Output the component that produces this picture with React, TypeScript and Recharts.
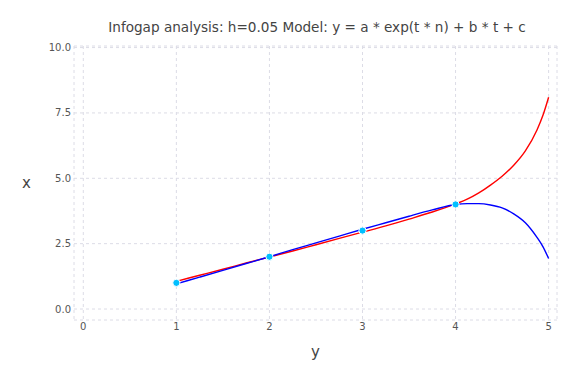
import React from "react";
import { ComposedChart, Line, XAxis, YAxis, CartesianGrid, Label } from "recharts";

const T_GRID = [1, 1.25, 1.5, 1.75, 2, 2.25, 2.5, 2.75, 3, 3.25, 3.5, 3.75, 4, 4.125, 4.25, 4.375, 4.5, 4.625, 4.75, 4.875, 4.94, 5];
const RED_VALUES = [1.06, 1.29, 1.52, 1.76, 1.99, 2.22, 2.46, 2.7, 2.94, 3.18, 3.44, 3.71, 4.02, 4.2, 4.44, 4.74, 5.08, 5.5, 6.05, 6.85, 7.42, 8.1];
const BLUE_VALUES = [0.96, 1.22, 1.48, 1.74, 2.0, 2.27, 2.53, 2.79, 3.05, 3.3, 3.55, 3.79, 4.0, 4.03, 4.03, 3.98, 3.87, 3.64, 3.3, 2.74, 2.38, 1.93];
const POINT_T = [1, 2, 3, 4];
const POINT_V = [1, 2, 3, 4];
const X_TICKS = [0, 1, 2, 3, 4, 5];
const Y_TICKS = [0, 2.5, 5, 7.5, 10];

const redData = T_GRID.map((t, i) => ({ t, v: RED_VALUES[i] }));
const blueData = T_GRID.map((t, i) => ({ t, v: BLUE_VALUES[i] }));
const pointData = POINT_T.map((t, i) => ({ t, v: POINT_V[i] }));

const FONT = "'DejaVu Sans', Verdana, sans-serif";
const TICK = { fill: "#555", fontSize: 10, fontFamily: FONT };

export default function App() {
  return (
    <div style={{ position: "fixed", left: 0, top: 0, width: 576, height: 384, background: "#fff" }}>
      <ComposedChart width={576} height={384} margin={{ top: 46, right: 19, bottom: 0, left: 24 }}>
        <text x={317} y={32} textAnchor="middle" fill="#444" fontSize={13.6} fontFamily={FONT}>
          Infogap analysis: h=0.05 Model: y = a * exp(t * n) + b * t + c
        </text>
        <CartesianGrid stroke="#dcdce6" strokeDasharray="3 3" />
        <XAxis
          type="number"
          dataKey="t"
          domain={[-0.1, 5.09]}
          ticks={X_TICKS}
          tickFormatter={(v: number) => String(v)}
          axisLine={false}
          tickLine={false}
          tickSize={0}
          tickMargin={3}
          tick={TICK}
          height={64}
          allowDataOverflow
        >
          <Label value="y" position="insideTop" offset={26} fill="#444" fontSize={15} fontFamily={FONT} />
        </XAxis>
        <YAxis
          type="number"
          dataKey="v"
          domain={[-0.42, 10.06]}
          ticks={Y_TICKS}
          tickFormatter={(v: number) => v.toFixed(1)}
          axisLine={false}
          tickLine={false}
          tickSize={0}
          tickMargin={3}
          tick={TICK}
          width={50}
          allowDataOverflow
        >
          <Label value="x" position="insideLeft" offset={-2} fill="#444" fontSize={15} fontFamily={FONT} />
        </YAxis>
        <Line data={redData} dataKey="v" type="monotone" stroke="#ff0000" strokeWidth={1.4} dot={false} isAnimationActive={false} />
        <Line data={blueData} dataKey="v" type="monotone" stroke="#0000ff" strokeWidth={1.4} dot={false} isAnimationActive={false} />
        <Line
          data={pointData}
          dataKey="v"
          stroke="none"
          dot={{ r: 3.6, fill: "#00bfff", stroke: "#ffffff", strokeWidth: 1 }}
          isAnimationActive={false}
        />
      </ComposedChart>
    </div>
  );
}
